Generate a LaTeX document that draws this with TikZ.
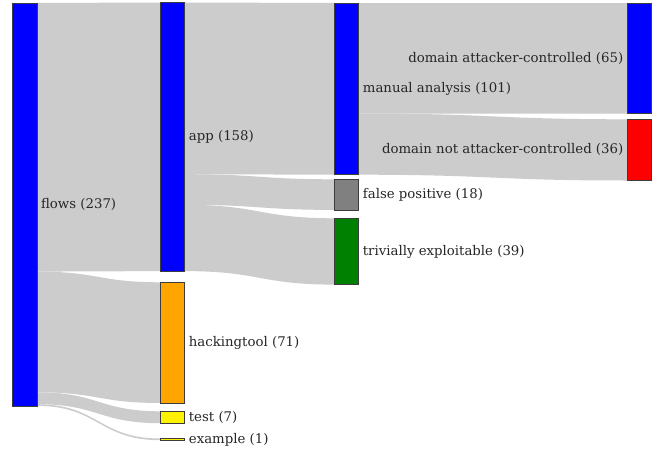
\documentclass[tikz,border=0pt]{standalone}
\usepackage{fontspec}
\setmainfont{DejaVu Serif}
\usetikzlibrary{calc,backgrounds}
\definecolor{linkc}{RGB}{204,204,204}
\definecolor{nodeedge}{RGB}{60,60,60}
\definecolor{plorange}{RGB}{255,165,0}
\definecolor{plgreen}{RGB}{0,128,0}
\newcommand\sklink[5]{%
  \fill[linkc] let \p1=(#1.north east), \p2=(#3.north west), \n1={(\x1+\x2)/2} in
   (\x1,{\y1-#2*1.7pt}) .. controls (\n1,{\y1-#2*1.7pt}) and (\n1,{\y2-#4*1.7pt}) .. (\x2,{\y2-#4*1.7pt})
   -- (\x2,{\y2-(#4+#5)*1.7pt}) .. controls (\n1,{\y2-(#4+#5)*1.7pt}) and (\n1,{\y1-(#2+#5)*1.7pt}) .. (\x1,{\y1-(#2+#5)*1.7pt}) -- cycle;}
\begin{document}
\begin{tikzpicture}[x=1pt,y=-1pt,
  sknode/.style={draw=nodeedge,line width=0.6pt,minimum width=24.2pt,inner sep=0pt,outer sep=0pt,anchor=north west},
  lab/.style={font=\fontsize{13.3}{15}\selectfont,text=black!85,inner sep=0pt}]
\useasboundingbox (0,0) rectangle (654,450);
\node[sknode,fill=blue,minimum height=402.9pt] (flows) at (12.7,3) {};
\node[sknode,fill=blue,minimum height=268.6pt] (app) at (160.5,2.5) {};
\node[sknode,fill=plorange,minimum height=120.7pt] (hack) at (160.5,282.3) {};
\node[sknode,fill=yellow,minimum height=11.9pt] (test) at (160.5,411.3) {};
\node[sknode,fill=yellow,minimum height=1.7pt] (example) at (160.5,438.5) {};
\node[sknode,fill=blue,minimum height=171.7pt] (manual) at (334.5,3) {};
\node[sknode,fill=gray,minimum height=30.6pt] (fp) at (334.5,179.3) {};
\node[sknode,fill=plgreen,minimum height=66.3pt] (triv) at (334.5,218.3) {};
\node[sknode,fill=blue,minimum height=110.5pt] (dac) at (627.5,3) {};
\node[sknode,fill=red,minimum height=61.2pt] (dnac) at (627.5,119.3) {};
\begin{scope}[on background layer]
\fill[white] (0,0) rectangle (654,450);
\sklink{flows}{0}{app}{0}{158}
\sklink{flows}{158}{hack}{0}{71}
\sklink{flows}{229}{test}{0}{7}
\sklink{flows}{236}{example}{0}{1}
\sklink{app}{0}{manual}{0}{101}
\sklink{app}{101}{fp}{0}{18}
\sklink{app}{119}{triv}{0}{39}
\sklink{manual}{0}{dac}{0}{65}
\sklink{manual}{65}{dnac}{0}{36}
\end{scope}
\node[lab,anchor=west] (lflows) at ([xshift=4pt]flows.east) {flows (237)};
\node[lab,anchor=west] (lapp) at ([xshift=4pt]app.east) {app (158)};
\node[lab,anchor=west] (lhack) at ([xshift=4pt]hack.east) {hackingtool (71)};
\node[lab,anchor=west] (ltest) at ([xshift=4pt]test.east) {test (7)};
\node[lab,anchor=west] (lex) at ([xshift=4pt]example.east) {example (1)};
\node[lab,anchor=west] (lman) at ([xshift=4pt]manual.east) {manual analysis (101)};
\node[lab,anchor=west] (lfp) at ([xshift=4pt]fp.east) {false positive (18)};
\node[lab,anchor=west] (ltriv) at ([xshift=4pt]triv.east) {trivially exploitable (39)};
\node[lab,anchor=east] (ldac) at ([xshift=-4pt]dac.west) {domain attacker-controlled (65)};
\node[lab,anchor=east] (ldnac) at ([xshift=-4pt]dnac.west) {domain not attacker-controlled (36)};
\end{tikzpicture}
\end{document}
